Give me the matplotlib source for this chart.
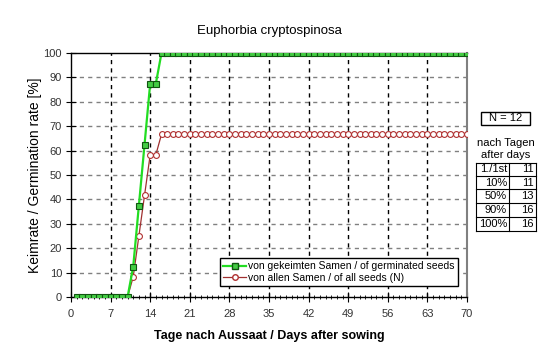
import matplotlib
matplotlib.use("Agg")
import matplotlib.pyplot as plt
from matplotlib.patches import Rectangle
from matplotlib.lines import Line2D

plt.rcParams['font.family'] = ['Liberation Sans', 'DejaVu Sans']

days = list(range(1, 71))
germinated = [0]*10 + [12.5, 37.5, 62.5, 87.5, 87.5] + [100]*55
all_seeds = [0]*10 + [8.3, 25.0, 41.7, 58.3, 58.3] + [66.7]*55

title = "Euphorbia cryptospinosa"
xlabel = "Tage nach Aussaat / Days after sowing"
ylabel = "Keimrate / Germination rate [%]"
legend_labels = ["von gekeimten Samen / of germinated seeds", "von allen Samen / of all seeds (N)"]
n_text = "N = 12"
table_rows = [("1./1st", "11"), ("10%", "11"), ("50%", "13"), ("90%", "16"), ("100%", "16")]
xticks = list(range(0, 71, 7))
yticks = list(range(0, 101, 10))

W, H = 560, 360
fig = plt.figure(figsize=(5.6, 3.6), dpi=100)
ax = fig.add_axes([71/W, 1-297/H, (467-71)/W, (297-53)/H])

ax.set_xlim(0, 70)
ax.set_ylim(0, 100)
ax.set_xticks(xticks)
ax.set_yticks(yticks)
ax.set_xticks(range(0, 71), minor=True)
for y in yticks[1:-1]:
    ax.axhline(y, color='#808080', lw=1.0, ls=(0, (3, 3)), zorder=1)
for x in xticks[1:-1]:
    ax.axvline(x, color='black', lw=1.0, ls=(0, (3, 3)), zorder=1)

ax.plot(days, all_seeds, color='#A03030', lw=0.9, marker='o', ms=4.2,
        mfc='white', mec='#B03030', mew=0.8, zorder=3, label=legend_labels[1])
ax.plot(days, germinated, color='#22DD22', lw=1.6, marker='s', ms=4.2,
        mfc='#44CC44', mec='#115511', mew=0.8, zorder=4, label=legend_labels[0])

for s in ['left', 'bottom', 'top']:
    ax.spines[s].set_color('black')
    ax.spines[s].set_linewidth(1.0)
ax.spines['right'].set_color('#808080')
ax.spines['right'].set_linewidth(1.5)

ax.tick_params(axis='x', which='major', direction='inout', length=7, labelsize=8, pad=5,
               labelcolor='#333333')
ax.tick_params(axis='x', which='minor', direction='inout', length=3)
ax.tick_params(axis='y', which='major', direction='inout', length=7, labelsize=8, pad=3,
               labelcolor='#333333')

ax.set_title(title, fontsize=9.5, pad=14)
ax.set_xlabel(xlabel, fontsize=9, fontweight='bold', labelpad=8)
ax.set_ylabel(ylabel, fontsize=10, labelpad=1)

handles = [Line2D([], [], color='#22DD22', lw=1.6, marker='s', ms=4, mfc='#44CC44', mec='#115511'),
           Line2D([], [], color='#A03030', lw=0.9, marker='o', ms=4, mfc='white', mec='#B03030')]
leg = ax.legend(handles, legend_labels, loc='lower right', bbox_to_anchor=(458/W, 1-286/H),
                bbox_transform=fig.transFigure, fontsize=7.5, frameon=True, fancybox=False,
                edgecolor='black', framealpha=1, handlelength=2.2, handletextpad=0.2,
                borderpad=0.3, labelspacing=0.15, borderaxespad=0)
leg.get_frame().set_linewidth(1.0)

# side panel
def fx(px):
    return px / W

def fy(py):
    return 1 - py / H

fig.patches.append(Rectangle((fx(481), fy(125)), fx(530)-fx(481), fy(112)-fy(125),
                             transform=fig.transFigure, fill=False, ec='black', lw=1.0))
fig.text(fx(505.5), fy(118.5), n_text, ha='center', va='center', fontsize=8)
fig.text(fx(506), fy(143), "nach Tagen", ha='center', va='center', fontsize=8)
fig.text(fx(506), fy(155), "after days", ha='center', va='center', fontsize=8)

tl, tm, tr = 476, 509, 536
row_y = [163, 176, 189, 203, 217, 231]
for y in row_y:
    fig.add_artist(Line2D([fx(tl), fx(tr)], [fy(y), fy(y)], color='black', lw=0.8,
                          transform=fig.transFigure))
for x in (tl, tm, tr):
    fig.add_artist(Line2D([fx(x), fx(x)], [fy(row_y[0]), fy(row_y[-1])], color='black', lw=0.8,
                          transform=fig.transFigure))
for i, (a, b) in enumerate(table_rows):
    yc = (row_y[i] + row_y[i+1]) / 2
    fig.text(fx(tm-2), fy(yc), a, ha='right', va='center', fontsize=8)
    fig.text(fx(tr-2), fy(yc), b, ha='right', va='center', fontsize=8)

fig.savefig("out.png", dpi=100)
